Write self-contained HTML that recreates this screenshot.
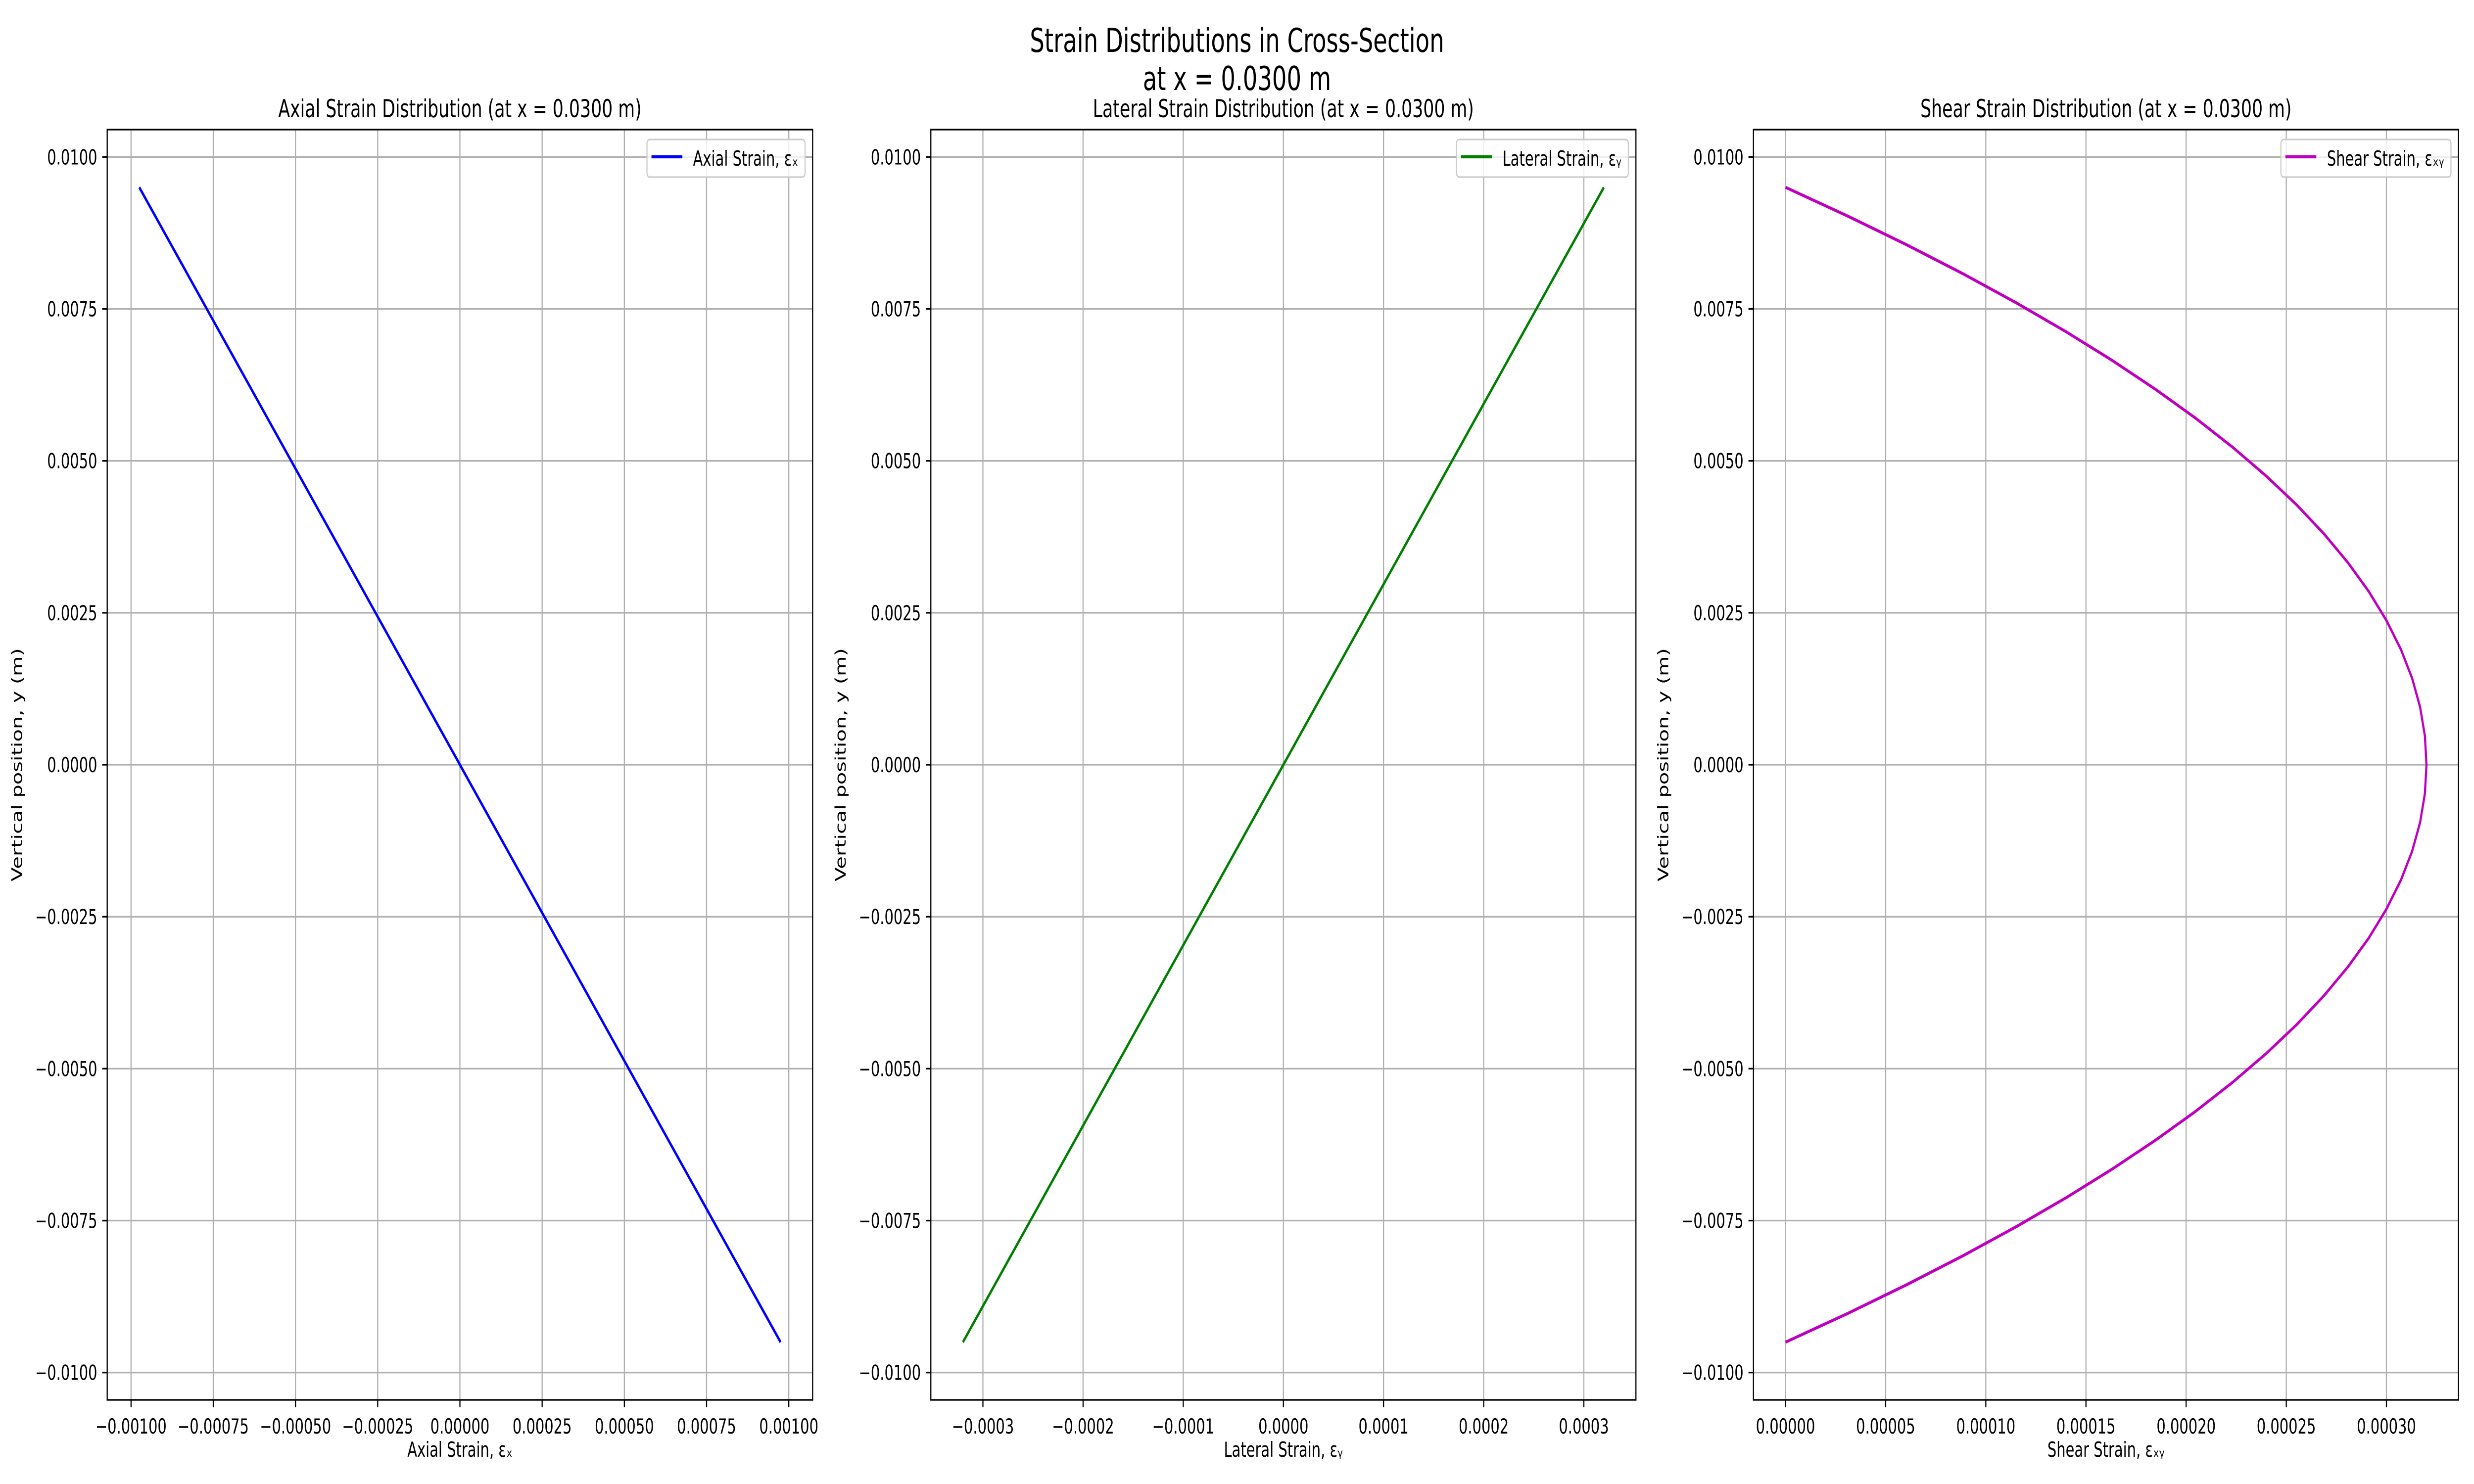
<!DOCTYPE html>
<html><head><meta charset="utf-8"><style>
html,body{margin:0;padding:0;background:#fff;overflow:hidden;width:100vw;height:100vh;}
svg{display:block;width:100vw;height:100vh;font-family:"DejaVu Sans","Liberation Sans",sans-serif;}
</style></head><body>
<svg id="fig" viewBox="0 0 7200 3000" preserveAspectRatio="none" xmlns="http://www.w3.org/2000/svg">
<rect width="7200" height="3000" fill="#fff"/>
<text x="3600" y="105" font-size="67" text-anchor="middle">Strain Distributions in Cross-Section</text>
<text x="3600" y="182" font-size="67" text-anchor="middle">at x = 0.0300 m</text>
</svg>
<script>
// ---- data ----
const yTicks = [0.0100, 0.0075, 0.0050, 0.0025, 0.0000, -0.0025, -0.0050, -0.0075, -0.0100];
const yTickLabels = ["0.0100","0.0075","0.0050","0.0025","0.0000","−0.0025","−0.0050","−0.0075","−0.0100"];
const axialY = [0.0095, 0.0, -0.0095];
const axialStrain = [-0.000975, 0.0, 0.000975];
const lateralY = [0.0095, 0.0, -0.0095];
const lateralStrain = [0.00032, 0.0, -0.00032];
const shearY = [0.0095,0.009025,0.00855,0.008075,0.0076,0.007125,0.00665,0.006175,0.0057,0.005225,0.00475,0.004275,0.0038,0.003325,0.00285,0.002375,0.0019,0.001425,0.00095,0.000475,0,
 -0.000475,-0.00095,-0.001425,-0.0019,-0.002375,-0.00285,-0.003325,-0.0038,-0.004275,-0.00475,-0.005225,-0.0057,-0.006175,-0.00665,-0.007125,-0.0076,-0.008075,-0.00855,-0.009025,-0.0095];
const shearStrain = [0,0.0000312,0.0000608,0.0000888,0.0001152,0.00014,0.0001632,0.0001848,0.0002048,0.0002232,0.00024,0.0002552,0.0002688,0.0002808,0.0002912,0.0003,0.0003072,0.0003128,0.0003168,0.0003192,0.00032,
 0.0003192,0.0003168,0.0003128,0.0003072,0.0003,0.0002912,0.0002808,0.0002688,0.0002552,0.00024,0.0002232,0.0002048,0.0001848,0.0001632,0.00014,0.0001152,0.0000888,0.0000608,0.0000312,0];
const axialTicks = [-0.001,-0.00075,-0.0005,-0.00025,0,0.00025,0.0005,0.00075,0.001];
const axialTickLabels = ["−0.00100","−0.00075","−0.00050","−0.00025","0.00000","0.00025","0.00050","0.00075","0.00100"];
const lateralTicks = [-0.0003,-0.0002,-0.0001,0,0.0001,0.0002,0.0003];
const lateralTickLabels = ["−0.0003","−0.0002","−0.0001","0.0000","0.0001","0.0002","0.0003"];
const shearTicks = [0,0.00005,0.0001,0.00015,0.0002,0.00025,0.0003];
const shearTickLabels = ["0.00000","0.00005","0.00010","0.00015","0.00020","0.00025","0.00030"];

const NS = "http://www.w3.org/2000/svg";
const svg = document.getElementById('fig');
function mk(tag, attrs, parent){const e=document.createElementNS(NS,tag);for(const k in attrs)e.setAttribute(k,attrs[k]);(parent||svg).appendChild(e);return e;}
function range(a){let mn=Math.min(...a),mx=Math.max(...a);const p=(mx-mn)*0.05;return [mn-p,mx+p];}

const panels = [
 {key:'axial', left:312, right:2365, xs:axialStrain, ys:axialY, ticks:axialTicks, labels:axialTickLabels, color:'#0000ff',
  title:'Axial Strain Distribution (at x = 0.0300 m)', xlabel:'Axial Strain, εₓ', legend:'Axial Strain, εₓ'},
 {key:'lateral', left:2709, right:4761, xs:lateralStrain, ys:lateralY, ticks:lateralTicks, labels:lateralTickLabels, color:'#008000',
  title:'Lateral Strain Distribution (at x = 0.0300 m)', xlabel:'Lateral Strain, εᵧ', legend:'Lateral Strain, εᵧ'},
 {key:'shear', left:5103, right:7155, xs:shearStrain, ys:shearY, ticks:shearTicks, labels:shearTickLabels, color:'#bf00bf',
  title:'Shear Strain Distribution (at x = 0.0300 m)', xlabel:'Shear Strain, εₓᵧ', legend:'Shear Strain, εₓᵧ'}
];
const TOP=262, BOT=2830;

panels.forEach(p=>{
  const g = mk('g',{});
  
  
  const [x0,x1]=range(p.xs), [y0,y1]=range(p.ys);
  const sx=v=>p.left+(v-x0)/(x1-x0)*(p.right-p.left);
  const sy=v=>BOT-(v-y0)/(y1-y0)*(BOT-TOP);
  p.ticks.forEach((t,i)=>{
    const X=sx(t);
    const gl=mk('line',{x1:X,x2:X,y1:TOP,y2:BOT,stroke:'#b0b0b0','stroke-width':3.3},g);
    
    
    mk('line',{x1:X,x2:X,y1:BOT,y2:BOT+14.6,stroke:'#000','stroke-width':3.3},g);
    const tl=mk('text',{x:X,y:BOT+29+39,'font-size':41.7,'text-anchor':'middle'},g);
    tl.textContent=p.labels[i];
    
    
  });
  yTicks.forEach((t,i)=>{
    const Y=sy(t);
    const gl=mk('line',{x1:p.left,x2:p.right,y1:Y,y2:Y,stroke:'#b0b0b0','stroke-width':3.3},g);
    
    
    mk('line',{x1:p.left-14.6,x2:p.left,y1:Y,y2:Y,stroke:'#000','stroke-width':3.3},g);
    const tl=mk('text',{x:p.left-29,y:Y+15,'font-size':41.7,'text-anchor':'end'},g);
    tl.textContent=yTickLabels[i];
    
    
  });
  const pts=p.xs.map((v,i)=>sx(v).toFixed(1)+','+sy(p.ys[i]).toFixed(1)).join(' ');
  const ln=mk('polyline',{points:pts,fill:'none',stroke:p.color,'stroke-width':6.25,'stroke-linejoin':'round'},g);
  
  
  const fr=mk('rect',{x:p.left,y:TOP,width:p.right-p.left,height:BOT-TOP,fill:'none',stroke:'#000','stroke-width':3.3},g);
  
  
  const ti=mk('text',{x:(p.left+p.right)/2,y:TOP-25,'font-size':50,'text-anchor':'middle'},g);
  ti.textContent=p.title;
  
  
  const xl=mk('text',{x:(p.left+p.right)/2,y:2945,'font-size':41.7,'text-anchor':'middle'},g);
  xl.textContent=p.xlabel;
  
  
  const yl=mk('text',{x:0,y:0,'font-size':41.7,'text-anchor':'middle',transform:`translate(${p.left-248},${(TOP+BOT)/2}) rotate(-90)`},g);
  yl.textContent='Vertical position, y (m)';
  
  
  const lg=mk('g',{},g);
  
  
  const box=mk('rect',{x:0,y:TOP+20,width:100,height:76,rx:8,fill:'#fff','fill-opacity':0.8,stroke:'#cccccc','stroke-width':3.3},lg);
  const lt=mk('text',{x:0,y:TOP+20+53,'font-size':41.7},lg);
  lt.textContent=p.legend;
  const tw=lt.getComputedTextLength();
  const bw=tw+134+20;
  const bx=p.right-22-bw;
  box.setAttribute('x',bx);box.setAttribute('width',bw);
  lt.setAttribute('x',bx+134);
  const lh=mk('line',{x1:bx+13,x2:bx+103,y1:TOP+55,y2:TOP+55,stroke:p.color,'stroke-width':6.25},lg);
  
  
});
</script>
</body></html>
